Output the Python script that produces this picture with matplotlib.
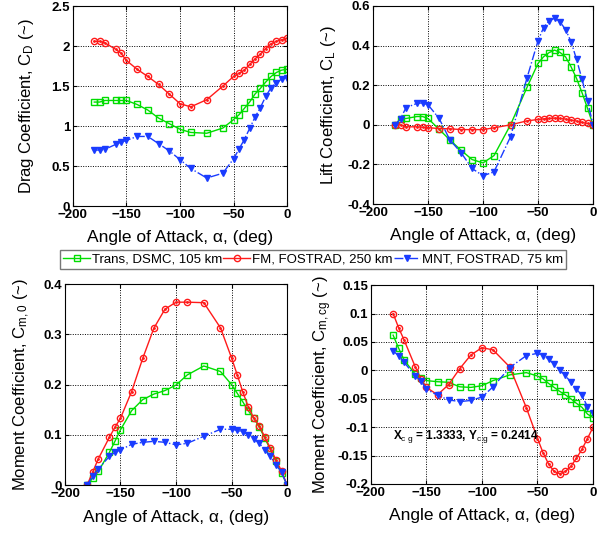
import matplotlib
matplotlib.use("Agg")
import matplotlib.pyplot as plt
from matplotlib.ticker import FuncFormatter

plt.rcParams['font.family'] = ['Liberation Sans', 'DejaVu Sans']
plt.rcParams['mathtext.fontset'] = 'custom'
plt.rcParams['mathtext.rm'] = 'Liberation Sans'
plt.rcParams['mathtext.it'] = 'Liberation Sans'
plt.rcParams['mathtext.bf'] = 'Liberation Sans:bold'

# angle of attack grid (deg)
alpha = [-180, -175, -170, -160, -155, -150, -140, -130, -120, -110, -100, -90, -75,
         -60, -50, -45, -40, -35, -30, -25, -20, -15, -10, -5, 0]

labels = ['Trans, DSMC, 105 km', 'FM, FOSTRAD, 250 km', 'MNT, FOSTRAD, 75 km']

# drag coefficient
cd_trans = [1.30, 1.30, 1.32, 1.32, 1.32, 1.32, 1.27, 1.20, 1.10, 1.03, 0.96, 0.92, 0.91,
            0.975, 1.08, 1.14, 1.22, 1.30, 1.40, 1.47, 1.55, 1.62, 1.67, 1.70, 1.71]
cd_fm = [2.06, 2.06, 2.04, 1.96, 1.91, 1.82, 1.71, 1.62, 1.52, 1.40, 1.28, 1.24, 1.33,
         1.50, 1.62, 1.66, 1.70, 1.77, 1.84, 1.90, 1.97, 2.03, 2.06, 2.08, 2.10]
cd_mnt = [0.70, 0.70, 0.71, 0.77, 0.80, 0.82, 0.87, 0.87, 0.78, 0.69, 0.58, 0.47, 0.35,
          0.41, 0.59, 0.71, 0.83, 0.97, 1.11, 1.23, 1.37, 1.48, 1.54, 1.59, 1.60]

# lift coefficient
cl_trans = [0.0, 0.03, 0.032, 0.042, 0.042, 0.032, -0.022, -0.077, -0.128, -0.175, -0.192, -0.155, 0.0,
            0.189, 0.310, 0.343, 0.364, 0.377, 0.365, 0.343, 0.293, 0.234, 0.162, 0.083, 0.0]
cl_fm = [0.0, 0.0, -0.01, -0.01, -0.012, -0.014, -0.019, -0.02, -0.024, -0.024, -0.024, -0.015, 0.0,
         0.02, 0.027, 0.03, 0.032, 0.034, 0.032, 0.029, 0.024, 0.019, 0.012, 0.007, 0.0]
cl_mnt = [0.0, 0.03, 0.087, 0.108, 0.111, 0.101, 0.033, -0.077, -0.14, -0.22, -0.257, -0.237, -0.06,
          0.237, 0.424, 0.49, 0.525, 0.537, 0.52, 0.48, 0.42, 0.33, 0.23, 0.12, 0.0]

# moment coefficient about the origin
cm0_trans = [0.0, 0.014, 0.027, 0.065, 0.087, 0.11, 0.148, 0.17, 0.181, 0.188, 0.199, 0.219, 0.237,
             0.226, 0.2, 0.183, 0.166, 0.148, 0.133, 0.115, 0.093, 0.07, 0.047, 0.024, 0.0]
cm0_fm = [0.0, 0.026, 0.052, 0.095, 0.115, 0.133, 0.186, 0.252, 0.312, 0.350, 0.364, 0.364, 0.363,
          0.313, 0.253, 0.22, 0.186, 0.156, 0.133, 0.118, 0.095, 0.073, 0.050, 0.028, 0.0]
cm0_mnt = [0.0, 0.018, 0.032, 0.057, 0.065, 0.07, 0.081, 0.085, 0.087, 0.085, 0.080, 0.083, 0.097,
           0.111, 0.111, 0.109, 0.106, 0.100, 0.092, 0.083, 0.07, 0.057, 0.04, 0.025, 0.0]

# moment coefficient about the centre of gravity
cmcg_trans = [0.062, 0.039, 0.018, -0.007, -0.014, -0.018, -0.020, -0.021, -0.029, -0.030, -0.027, -0.018, -0.008,
              -0.004, -0.010, -0.015, -0.023, -0.030, -0.037, -0.043, -0.050, -0.058, -0.065, -0.077, -0.083]
cmcg_fm = [0.100, 0.075, 0.053, 0.006, -0.015, -0.03, -0.043, -0.025, 0.003, 0.027, 0.040, 0.036, 0.006,
           -0.066, -0.120, -0.145, -0.165, -0.178, -0.182, -0.178, -0.169, -0.155, -0.139, -0.120, -0.100]
cmcg_mnt = [0.034, 0.026, 0.014, -0.010, -0.018, -0.033, -0.044, -0.052, -0.055, -0.053, -0.047, -0.029, 0.005,
            0.026, 0.030, 0.026, 0.020, 0.011, 0.0, -0.009, -0.021, -0.033, -0.044, -0.064, -0.075]

green, red, blue = '#00dd00', '#ff1a1a', '#1a3cff'

fig = plt.figure(figsize=(6.07, 5.33), dpi=100)

panels = [
    ([0.120, 0.6135, 0.353, 0.375], cd_trans, cd_fm, cd_mnt, (0, 2.5), 0.5,
     'Drag Coefficient, C$_{\\rm D}$ (~)', -0.215),
    ([0.6145, 0.617, 0.3625, 0.372], cl_trans, cl_fm, cl_mnt, (-0.4, 0.6), 0.2,
     'Lift Coefficient, C$_{\\rm L}$ (~)', -0.20),
    ([0.107, 0.090, 0.366, 0.377], cm0_trans, cm0_fm, cm0_mnt, (0, 0.4), 0.1,
     'Moment Coefficient, C$_{\\rm m,0}$ (~)', -0.194),
    ([0.611, 0.092, 0.366, 0.373], cmcg_trans, cmcg_fm, cmcg_mnt, (-0.2, 0.15), 0.05,
     'Moment Coefficient, C$_{\\rm m,cg}$ (~)', -0.216),
]

fmt = FuncFormatter(lambda v, p: ('%g' % round(v, 4)))

axes = []
for rect, yt, yf, ym, ylim, step, ylab, ylx in panels:
    ax = fig.add_axes(rect)
    h1, = ax.plot(alpha, yt, '-s', color=green, lw=1.0, ms=5, mfc='none', mec=green, mew=1.0)
    h2, = ax.plot(alpha, yf, '-o', color=red, lw=1.0, ms=4.5, mfc='none', mec=red, mew=1.0)
    ax.plot(alpha, yf, '.', color=red, ms=2)
    h3, = ax.plot(alpha, ym, '-.v', color=blue, lw=1.0, ms=5, mfc=blue, mec=blue)
    ax.set_xlim(-200, 0)
    ax.set_ylim(*ylim)
    ax.set_xticks([-200, -150, -100, -50, 0])
    n = int(round((ylim[1] - ylim[0]) / step))
    ax.set_yticks([ylim[0] + i * step for i in range(n + 1)])
    ax.yaxis.set_major_formatter(fmt)
    ax.grid(True, linestyle=(0, (1, 1.5)), color='k', lw=0.7)
    ax.tick_params(direction='in', top=True, right=True, length=3, labelsize=9.5, pad=2)
    for lbl in ax.get_xticklabels() + ax.get_yticklabels():
        lbl.set_fontweight('bold')
    for s in ax.spines.values():
        s.set_linewidth(0.8)
    ax.set_xlabel('Angle of Attack, \u03b1, (deg)', fontsize=12.5)
    ax.set_ylabel(ylab, fontsize=12)
    ax.xaxis.label.set_va('center')
    ax.yaxis.label.set_va('center')
    ax.xaxis.set_label_coords(0.5, -0.16)
    ax.yaxis.set_label_coords(ylx, 0.5)
    axes.append(ax)

axes[3].text(-180, -0.116, 'X$_{\\rm c\\ g}$ = 1.3333, Y$_{\\rm c\\ g}$ = 0.2414',
             fontsize=8.5, fontweight='bold', va='center', ha='left')

fig.legend([h1, h2, h3], labels, loc='center', bbox_to_anchor=(0.516, 0.513), ncol=3,
           fontsize=9.5, frameon=True, fancybox=False, edgecolor='#555555',
           handlelength=2.0, handletextpad=0.15, columnspacing=0.1, borderpad=0.25,
           borderaxespad=0)

fig.savefig('out.png', dpi=100)
